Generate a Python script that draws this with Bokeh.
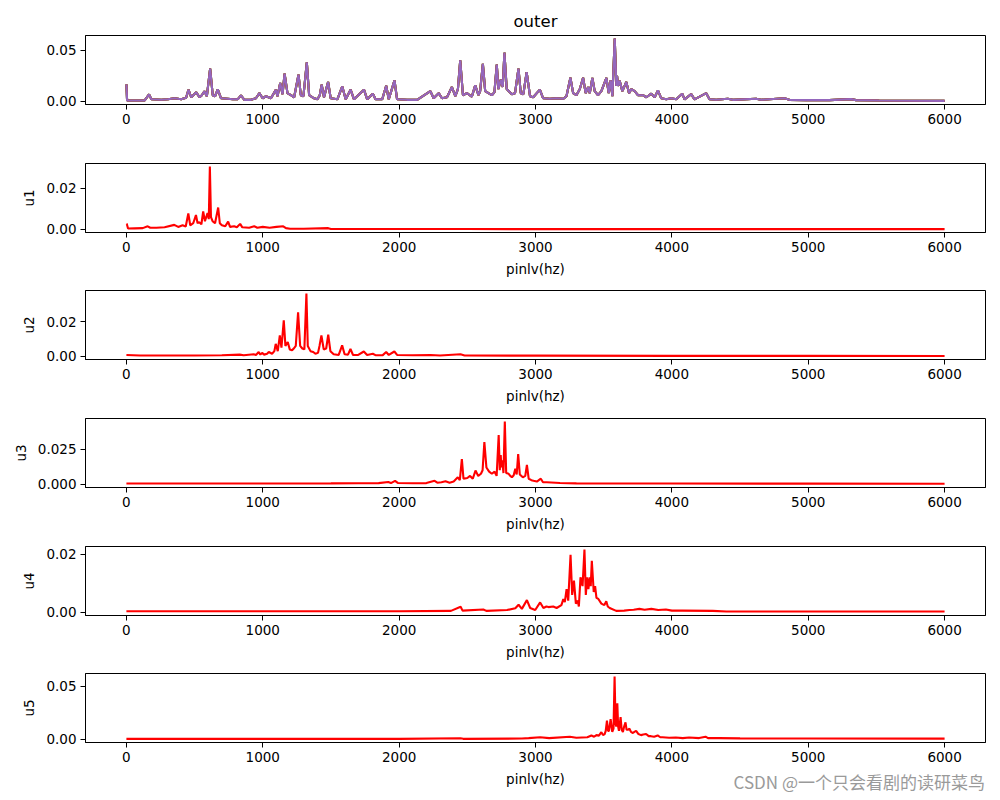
from bokeh.plotting import figure
from bokeh.layouts import column
from bokeh.models import Range1d, FixedTicker, NumeralTickFormatter, Div
from bokeh.embed import file_html
from bokeh.resources import INLINE

# ---------------- data (frequency Hz, amplitude) ----------------
x_ticks = [0, 1000, 2000, 3000, 4000, 5000, 6000]

outer = [(0, 0.0166), (5, 0.0010), (61, 0.0008), (134, 0.0010), (166, 0.0068), (183, 0.0020),
         (256, 0.0015), (305, 0.0020), (353, 0.0030), (402, 0.0020), (438, 0.0035), (455, 0.0114),
         (475, 0.0040), (512, 0.0088), (536, 0.0040), (553, 0.0060), (572, 0.0098), (590, 0.0050),
         (614, 0.0320), (633, 0.0060), (650, 0.0050), (670, 0.0117), (694, 0.0030), (743, 0.0025),
         (780, 0.0020), (816, 0.0020), (840, 0.0058), (865, 0.0015), (914, 0.0015), (950, 0.0030),
         (975, 0.0080), (999, 0.0030), (1023, 0.0050), (1060, 0.0030), (1096, 0.0114), (1108, 0.0050),
         (1128, 0.0180), (1145, 0.0070), (1160, 0.0270), (1181, 0.0080), (1206, 0.0060), (1230, 0.0040),
         (1262, 0.0260), (1279, 0.0060), (1298, 0.0050), (1323, 0.0380), (1340, 0.0060), (1376, 0.0030),
         (1401, 0.0020), (1418, 0.0060), (1432, 0.0163), (1449, 0.0040), (1479, 0.0189), (1498, 0.0030),
         (1547, 0.0020), (1583, 0.0146), (1608, 0.0020), (1644, 0.0114), (1669, 0.0020), (1742, 0.0114),
         (1766, 0.0020), (1807, 0.0075), (1827, 0.0020), (1876, 0.0020), (1905, 0.0153), (1924, 0.0020),
         (1966, 0.0205), (1985, 0.0020), (2058, 0.0015), (2132, 0.0015), (2229, 0.0100), (2253, 0.0030),
         (2290, 0.0080), (2314, 0.0030), (2351, 0.0040), (2387, 0.0140), (2412, 0.0050), (2431, 0.0120),
         (2448, 0.0400), (2468, 0.0060), (2497, 0.0080), (2533, 0.0045), (2558, 0.0156), (2582, 0.0060),
         (2594, 0.0100), (2614, 0.0367), (2631, 0.0100), (2655, 0.0080), (2680, 0.0060), (2699, 0.0090),
         (2716, 0.0358), (2728, 0.0120), (2745, 0.0210), (2760, 0.0140), (2772, 0.0475), (2789, 0.0120),
         (2826, 0.0070), (2850, 0.0080), (2875, 0.0320), (2892, 0.0080), (2911, 0.0070), (2935, 0.0286),
         (2960, 0.0050), (2983, 0.0040), (3032, 0.0114), (3056, 0.0030), (3105, 0.0025), (3154, 0.0030),
         (3203, 0.0025), (3227, 0.0050), (3256, 0.0230), (3276, 0.0080), (3300, 0.0060), (3325, 0.0120),
         (3349, 0.0230), (3368, 0.0080), (3386, 0.0140), (3398, 0.0080), (3417, 0.0228), (3434, 0.0100),
         (3459, 0.0060), (3483, 0.0100), (3520, 0.0228), (3537, 0.0080), (3551, 0.0205), (3564, 0.0050),
         (3581, 0.0612), (3593, 0.0150), (3598, 0.0250), (3605, 0.0150), (3617, 0.0200), (3637, 0.0100),
         (3666, 0.0190), (3686, 0.0080), (3703, 0.0120), (3727, 0.0100), (3752, 0.0060), (3788, 0.0060),
         (3813, 0.0040), (3849, 0.0075), (3874, 0.0040), (3898, 0.0107), (3922, 0.0030), (3959, 0.0020),
         (3996, 0.0030), (4032, 0.0020), (4076, 0.0075), (4093, 0.0020), (4142, 0.0070), (4166, 0.0020),
         (4252, 0.0080), (4276, 0.0020), (4325, 0.0015), (4410, 0.0025), (4447, 0.0015), (4618, 0.0025),
         (4654, 0.0015), (4825, 0.0030), (4862, 0.0015), (4984, 0.0012), (5155, 0.0012), (5313, 0.0022),
         (5350, 0.0012), (5520, 0.0008), (6000, 0.0005)]

u1 = [(0, 0.0027), (3, 0.0026), (12, 0.0004), (60, 0.0005), (120, 0.0006), (156, 0.0015), (175, 0.0008),
      (220, 0.0008), (280, 0.0010), (351, 0.0022), (380, 0.0012), (412, 0.0020), (435, 0.0014),
      (454, 0.0078), (468, 0.0020), (490, 0.0030), (510, 0.0070), (522, 0.0030), (534, 0.0035),
      (550, 0.0025), (563, 0.0088), (576, 0.0040), (595, 0.0080), (604, 0.0050), (612, 0.0307),
      (620, 0.0060), (632, 0.0040), (650, 0.0030), (673, 0.0107), (685, 0.0030), (700, 0.0020),
      (725, 0.0015), (746, 0.0038), (760, 0.0012), (790, 0.0015), (810, 0.0010), (834, 0.0027),
      (850, 0.0010), (900, 0.0008), (937, 0.0015), (960, 0.0008), (1000, 0.0012), (1050, 0.0008),
      (1100, 0.0012), (1150, 0.0015), (1170, 0.0006), (1200, 0.0003), (1300, 0.0003), (1480, 0.0006),
      (1500, 0.0002), (1600, 0.0002), (2000, 0.0002), (2500, 0.0002), (3000, 0.0001), (4000, 0.0001),
      (5000, 0.0001), (6000, 0.0001)]

u2 = [(0, 0.0008), (100, 0.0005), (300, 0.0005), (500, 0.0005), (700, 0.0006), (831, 0.0010),
      (860, 0.0006), (934, 0.0012), (950, 0.0008), (970, 0.0025), (982, 0.0010), (995, 0.0020),
      (1010, 0.0010), (1032, 0.0015), (1044, 0.0025), (1068, 0.0015), (1085, 0.0030), (1095, 0.0072),
      (1110, 0.0030), (1125, 0.0120), (1137, 0.0050), (1154, 0.0207), (1166, 0.0060), (1183, 0.0082),
      (1198, 0.0040), (1215, 0.0035), (1227, 0.0045), (1242, 0.0060), (1259, 0.0253), (1274, 0.0060),
      (1290, 0.0045), (1305, 0.0040), (1320, 0.0360), (1330, 0.0060), (1350, 0.0030), (1370, 0.0025),
      (1386, 0.0015), (1405, 0.0020), (1416, 0.0060), (1430, 0.0120), (1447, 0.0040), (1465, 0.0045),
      (1480, 0.0124), (1496, 0.0030), (1520, 0.0012), (1557, 0.0008), (1582, 0.0063), (1600, 0.0012),
      (1625, 0.0010), (1643, 0.0042), (1662, 0.0008), (1700, 0.0008), (1741, 0.0028), (1765, 0.0008),
      (1807, 0.0015), (1830, 0.0006), (1880, 0.0007), (1905, 0.0025), (1924, 0.0008), (1965, 0.0028),
      (1985, 0.0008), (2100, 0.0006), (2230, 0.0008), (2300, 0.0005), (2450, 0.0012), (2480, 0.0005),
      (3000, 0.0004), (4000, 0.0003), (5000, 0.0003), (6000, 0.0002)]

u3 = [(0, 0.0006), (500, 0.0006), (1000, 0.0006), (1500, 0.0007), (1700, 0.0008), (1850, 0.0009),
      (1920, 0.0017), (1940, 0.0009), (1970, 0.0025), (1990, 0.0010), (2100, 0.0008), (2200, 0.0009),
      (2260, 0.0025), (2280, 0.0012), (2310, 0.0015), (2340, 0.0022), (2370, 0.0012), (2400, 0.0020),
      (2430, 0.0050), (2445, 0.0030), (2460, 0.0180), (2472, 0.0040), (2500, 0.0045), (2520, 0.0060),
      (2540, 0.0040), (2560, 0.0098), (2580, 0.0060), (2600, 0.0075), (2612, 0.0100), (2625, 0.0300),
      (2640, 0.0120), (2660, 0.0090), (2680, 0.0075), (2700, 0.0090), (2715, 0.0060), (2730, 0.0350),
      (2738, 0.0100), (2745, 0.0208), (2750, 0.0120), (2756, 0.0170), (2765, 0.0080), (2775, 0.0445),
      (2785, 0.0080), (2803, 0.0075), (2815, 0.0060), (2827, 0.0050), (2840, 0.0065), (2852, 0.0110),
      (2862, 0.0070), (2873, 0.0215), (2885, 0.0070), (2907, 0.0050), (2925, 0.0060), (2937, 0.0138),
      (2950, 0.0040), (2970, 0.0030), (2985, 0.0025), (3010, 0.0020), (3039, 0.0040), (3055, 0.0015),
      (3083, 0.0015), (3180, 0.0010), (3300, 0.0007), (3600, 0.0006), (4000, 0.0006), (5000, 0.0005),
      (6000, 0.0004)]

u4 = [(0, 0.0004), (1000, 0.0004), (2000, 0.0004), (2380, 0.0005), (2451, 0.0019), (2465, 0.0006),
      (2617, 0.0010), (2640, 0.0005), (2791, 0.0008), (2852, 0.0014), (2876, 0.0026), (2900, 0.0012),
      (2937, 0.0042), (2961, 0.0015), (2998, 0.0008), (3034, 0.0034), (3058, 0.0015), (3080, 0.0020),
      (3095, 0.0018), (3130, 0.0020), (3155, 0.0015), (3190, 0.0025), (3204, 0.0046), (3215, 0.0035),
      (3228, 0.0080), (3240, 0.0040), (3257, 0.0197), (3269, 0.0060), (3282, 0.0109), (3296, 0.0030),
      (3310, 0.0040), (3318, 0.0020), (3330, 0.0120), (3345, 0.0090), (3359, 0.0215), (3369, 0.0060),
      (3379, 0.0120), (3388, 0.0080), (3398, 0.0120), (3405, 0.0090), (3413, 0.0177), (3427, 0.0070),
      (3437, 0.0090), (3447, 0.0050), (3461, 0.0046), (3483, 0.0030), (3505, 0.0025), (3519, 0.0038),
      (3530, 0.0020), (3544, 0.0015), (3592, 0.0005), (3650, 0.0006), (3689, 0.0008), (3720, 0.0009),
      (3762, 0.0012), (3800, 0.0009), (3850, 0.0012), (3900, 0.0008), (3956, 0.0010), (4000, 0.0006),
      (4078, 0.0006), (4300, 0.0005), (4400, 0.0003), (5000, 0.0003), (6000, 0.0003)]

u5 = [(0, 0.0005), (1000, 0.0005), (2000, 0.0005), (2450, 0.0010), (2470, 0.0005), (2900, 0.0008),
      (2950, 0.0012), (3034, 0.0020), (3100, 0.0012), (3252, 0.0025), (3300, 0.0015), (3380, 0.0020),
      (3410, 0.0037), (3430, 0.0025), (3447, 0.0040), (3465, 0.0035), (3483, 0.0068), (3495, 0.0040),
      (3507, 0.0050), (3515, 0.0080), (3524, 0.0177), (3532, 0.0080), (3539, 0.0080), (3551, 0.0190),
      (3563, 0.0070), (3572, 0.0100), (3580, 0.0590), (3587, 0.0150), (3592, 0.0120), (3600, 0.0340),
      (3606, 0.0120), (3612, 0.0080), (3624, 0.0210), (3632, 0.0090), (3641, 0.0070), (3650, 0.0120),
      (3660, 0.0160), (3668, 0.0090), (3677, 0.0090), (3689, 0.0100), (3700, 0.0070), (3714, 0.0060),
      (3725, 0.0070), (3738, 0.0080), (3755, 0.0050), (3774, 0.0040), (3790, 0.0045), (3811, 0.0050),
      (3830, 0.0030), (3847, 0.0030), (3870, 0.0025), (3896, 0.0037), (3915, 0.0020), (3932, 0.0020),
      (3980, 0.0015), (4029, 0.0018), (4080, 0.0012), (4126, 0.0017), (4200, 0.0012), (4247, 0.0025),
      (4265, 0.0012), (4345, 0.0012), (4500, 0.0009), (5000, 0.0008), (6000, 0.0007)]

panels = [
    # (series, ylabel, yticks, yformat, xlabel, title)
    (outer, "", [0, 0.05], "0.00", "", "outer"),
    (u1, "u1", [0, 0.02], "0.00", "pinlv(hz)", None),
    (u2, "u2", [0, 0.02], "0.00", "pinlv(hz)", None),
    (u3, "u3", [0, 0.025], "0.000", "pinlv(hz)", None),
    (u4, "u4", [0, 0.02], "0.00", "pinlv(hz)", None),
    (u5, "u5", [0, 0.05], "0.00", "pinlv(hz)", None),
]
outer_colors = ["#1f77b4", "#ff7f0e", "#2ca02c", "#d62728", "#9467bd"]
watermark = "CSDN @一个只会看剧的读研菜鸟"

# borders (top, bottom) per panel so the frames sit like the reference
borders = [(35, 49), (10, 48), (10, 49), (10, 49), (10, 48), (10, 50)]
FRAME_H = 69
FONT = "DejaVu Sans"

figs = []
for i, (series, ylab, yt, yfmt, xlab, title) in enumerate(panels):
    xs = [a for a, b in series]
    ys = [b for a, b in series]
    m = max(ys)
    top, bot = borders[i]
    p = figure(width=992, height=top + FRAME_H + bot, output_backend="svg",
               toolbar_location=None, title=title,
               x_range=Range1d(-300, 6300), y_range=Range1d(-0.05 * m, 1.05 * m),
               min_border_left=85, min_border_right=7,
               min_border_top=top, min_border_bottom=bot)
    p.xgrid.visible = False
    p.ygrid.visible = False
    p.outline_line_color = "black"
    p.outline_line_width = 1
    p.outline_line_alpha = 1
    p.background_fill_color = "white"
    p.border_fill_color = "white"
    if title:
        p.title.align = "center"
        p.title.text_font = FONT
        p.title.text_font_size = "16.5px"
        p.title.text_font_style = "normal"
        p.title.text_color = "black"
    if i == 0:
        for c in outer_colors:
            p.line(xs, ys, line_color=c, line_width=2.1)
    else:
        p.line(xs, ys, line_color="red", line_width=2.1)

    p.xaxis.ticker = FixedTicker(ticks=x_ticks)
    p.yaxis.ticker = FixedTicker(ticks=yt)
    p.yaxis.formatter = NumeralTickFormatter(format=yfmt)
    for ax in (p.xaxis, p.yaxis):
        ax.axis_line_color = "black"
        ax.major_tick_line_color = "black"
        ax.major_tick_out = 5
        ax.major_tick_in = 0
        ax.minor_tick_line_color = None
        ax.major_label_text_font = FONT
        ax.major_label_text_font_size = "13.5px"
        ax.major_label_text_color = "black"
        ax.major_label_standoff = 4
        ax.axis_label_text_font = FONT
        ax.axis_label_text_font_size = "13.5px"
        ax.axis_label_text_font_style = "normal"
        ax.axis_label_text_color = "black"
        ax.axis_label_standoff = 6
    if xlab:
        p.xaxis.axis_label = xlab
    if ylab:
        p.yaxis.axis_label = ylab
    figs.append(p)

# watermark overlapping the bottom strip of the last panel
wm = Div(text=('<div style="width:985px;text-align:right;'
               "font-family:'Noto Sans CJK SC';font-size:17px;line-height:20px;"
               'color:#9a9a9a;white-space:nowrap">' + watermark + '</div>'),
         width=992, height=20, margin=(-20, 0, 0, 0))

layout = column(*figs, wm)
open("out.html", "w").write(file_html(layout, INLINE))
